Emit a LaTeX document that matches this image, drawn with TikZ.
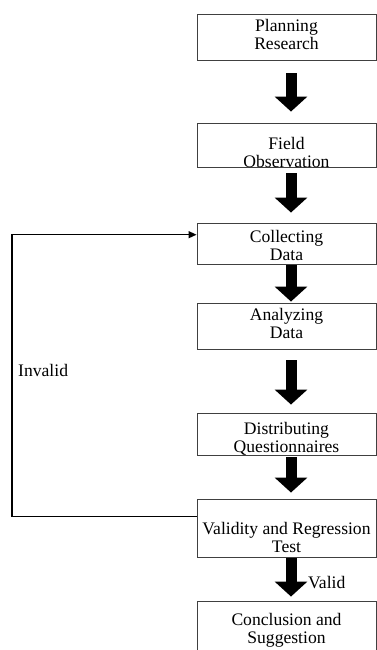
\documentclass[tikz,border=0pt]{standalone}
\usepackage{fontspec}
\setmainfont{Liberation Serif}
\usetikzlibrary{arrows.meta,calc}
\begin{document}
\begin{tikzpicture}[x=1pt,y=1pt,
  box/.style={draw=black!75, line width=0.9pt, minimum width=179pt, inner sep=0pt},
  lbl/.style={align=center, font=\fontsize{17.6}{18}\selectfont, anchor=base, inner sep=0pt},
  blockarrow/.style={line width=11pt, -{Triangle[width=32pt,length=15pt]}},
  loopline/.style={line width=1.3pt, -{Triangle[width=7pt,length=8pt]}}]
\useasboundingbox (0,0) rectangle (377,-650);
% boxes
\node[box, minimum height=46pt] (b1) at (286.5,-37) {};
\node[box, minimum height=44pt] (b2) at (286.5,-145) {};
\node[box, minimum height=41pt] (b3) at (286.5,-243.5) {};
\node[box, minimum height=46pt] (b4) at (286.5,-326) {};
\node[box, minimum height=42pt] (b5) at (286.5,-434) {};
\node[box, minimum height=58pt] (b6) at (286.5,-528) {};
\node[box, minimum height=59pt] (b7) at (286.5,-630.5) {};
% texts (anchor base = baseline of last line)
\node[lbl] (t1) at (286.5,-50) {Planning\\Research};
\node[lbl] (t2) at (286.5,-167) {Field\\Observation};
\node[lbl] (t3) at (286.5,-260) {Collecting\\Data};
\node[lbl] (t4) at (286.5,-338) {Analyzing\\Data};
\node[lbl] (t5) at (286.5,-452) {Distributing\\Questionnaires};
\node[lbl] (t6) at (286.5,-552) {Validity and Regression\\Test};
\node[lbl] (t7) at (286.5,-643) {Conclusion and\\Suggestion};
% block arrows
\coordinate (ax) at (291,0);
\draw[blockarrow, shorten <=13pt, shorten >=11pt] (b1.south -| ax) -- (b2.north -| ax);
\draw[blockarrow, shorten <=6pt, shorten >=10pt] (b2.south -| ax) -- (b3.north -| ax);
\draw[blockarrow, shorten <=1pt, shorten >=1pt] (b3.south -| ax) -- (b4.north -| ax);
\draw[blockarrow, shorten <=11pt, shorten >=8pt] (b4.south -| ax) -- (b5.north -| ax);
\draw[blockarrow, shorten <=2pt, shorten >=6pt] (b5.south -| ax) -- (b6.north -| ax);
\draw[blockarrow, shorten <=1pt, shorten >=4pt] (b6.south -| ax) -- (b7.north -| ax);
% feedback loop
\coordinate (lx) at (12,-400);
\draw[loopline] ($(b6.north west)!0.3!(b6.south west)$) -| (lx) |- ($(b3.north west)!0.29!(b3.south west)$);
\node[lbl, anchor=base west] (inv) at (18,-376) {Invalid};
\node[lbl, anchor=base west] (val) at (308,-588) {Valid};
\end{tikzpicture}
\end{document}
